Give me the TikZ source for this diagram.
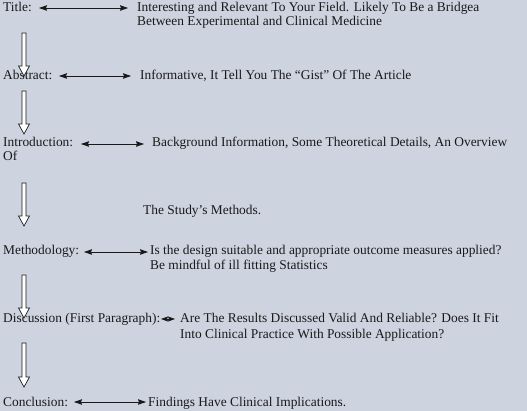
\documentclass[tikz,border=0pt]{standalone}
\usepackage{fontspec}
\setmainfont{Liberation Serif}
\usetikzlibrary{arrows.meta,calc}
\definecolor{bgc}{RGB}{205,212,224}
\definecolor{txt}{RGB}{25,25,25}
\tikzset{
  lbl/.style={anchor=base west,inner sep=0pt,text=txt,font=\fontsize{13.4}{15}\selectfont},
  harrow/.style={{Stealth[length=8pt,width=5.5pt,inset=1pt]}-{Stealth[length=8pt,width=5.5pt,inset=1pt]},line width=0.8pt,draw=txt},
  blk/.style={draw=txt,fill=white,line width=0.7pt,line join=miter}
}
\newcommand{\downblock}[2]{%
  \draw[blk] ($(#1)+(-2,0)$) -- ($(#2)+(-2,-10)$) -- ($(#2)+(-5.5,-10)$) -- (#2) -- ($(#2)+(5.5,-10)$) -- ($(#2)+(2,-10)$) -- ($(#1)+(2,0)$) -- cycle;}
\begin{document}
\begin{tikzpicture}[x=1pt,y=-1pt]
\fill[bgc] (0,0) rectangle (527,411);
\useasboundingbox (0,0) rectangle (527,411);
% labels
\node[lbl] (title) at (3,12) {Title:};
\node[lbl] (titleD1) at (137,12) {Interesting and Relevant To Your Field. Likely To Be a Bridgea};
\node[lbl] (titleD2) at (137,26) {Between Experimental and Clinical Medicine};
\node[lbl] (abs) at (3,80) {Abstract:};
\node[lbl] (absD) at (140,80) {Informative, It Tell You The “Gist” Of The Article};
\node[lbl] (intro) at (3,147) {Introduction:};
\node[lbl] (introOf) at (3,161) {Of};
\node[lbl] (introD) at (152,147) {Background Information, Some Theoretical Details, An Overview};
\node[lbl] (introD2) at (143,215) {The Study’s Methods.};
\node[lbl] (meth) at (3,255) {Methodology:};
\node[lbl] (methD1) at (150,255) {Is the design suitable and appropriate outcome measures applied?};
\node[lbl] (methD2) at (150,270) {Be mindful of ill fitting Statistics};
\node[lbl] (disc) at (3,323) {Discussion (First Paragraph):};
\node[lbl] (discD1) at (180,323) {Are The Results Discussed Valid And Reliable? Does It Fit};
\node[lbl] (discD2) at (180,338) {Into Clinical Practice With Possible Application?};
\node[lbl] (conc) at (3,406) {Conclusion:};
\node[lbl] (concD) at (148,406) {Findings Have Clinical Implications.};
% horizontal arrow ends
\coordinate (h1a) at (39,8);  \coordinate (h1b) at (128,8);
\coordinate (h2a) at (59,76); \coordinate (h2b) at (131,76);
\coordinate (h3a) at (81,144); \coordinate (h3b) at (144,144);
\coordinate (h4a) at (84,252); \coordinate (h4b) at (148,252);
\coordinate (h5a) at (161,319); \coordinate (h5b) at (175,319);
\coordinate (h6a) at (74,402); \coordinate (h6b) at (146,402);
\draw[harrow] (h1a) -- (h1b);
\draw[harrow] (h2a) -- (h2b);
\draw[harrow] (h3a) -- (h3b);
\draw[harrow] (h4a) -- (h4b);
\draw[harrow,{Stealth[length=7pt,width=5pt,inset=1pt]}-{Stealth[length=7pt,width=5pt,inset=1pt]}] (h5a) -- (h5b);
\draw[harrow] (h6a) -- (h6b);
% vertical block arrows
\coordinate (v1a) at (24,33);  \coordinate (v1b) at (24,76);
\coordinate (v2a) at (24,91);  \coordinate (v2b) at (24,134);
\coordinate (v3a) at (24,183); \coordinate (v3b) at (24,226);
\coordinate (v4a) at (24,275); \coordinate (v4b) at (24,318);
\coordinate (v5a) at (24,343); \coordinate (v5b) at (24,387);
\downblock{v1a}{v1b}
\downblock{v2a}{v2b}
\downblock{v3a}{v3b}
\downblock{v4a}{v4b}
\downblock{v5a}{v5b}
\end{tikzpicture}
\end{document}
